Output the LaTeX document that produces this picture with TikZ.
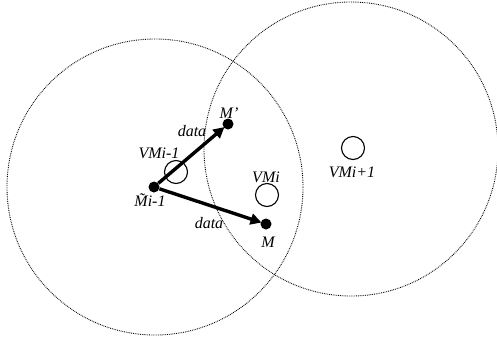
\documentclass[tikz,border=0pt]{standalone}
\usepackage{fontspec}
\setmainfont{Liberation Serif}
\usetikzlibrary{arrows.meta}
\tikzset{
  zone/.style={draw, line width=0.9pt, dash pattern=on 0.8pt off 1pt},
  vm/.style={circle, draw, line width=1.1pt, minimum size=23pt, inner sep=0pt},
  dotnode/.style={circle, fill, minimum size=11pt, inner sep=0pt},
  lbl/.style={font=\fontsize{16}{16}\selectfont\itshape, inner sep=0pt},
  arr/.style={line width=3.4pt, -{Triangle[length=11pt,width=11pt]}, shorten >=-1pt}
}
\begin{document}
\begin{tikzpicture}[x=1pt,y=-1pt]
\useasboundingbox (0,0) rectangle (497,338);
\draw[zone] (155,187) circle (148);
\draw[zone] (351,149) circle (147);
\node[vm] (vm1) at (176,172) {};
\node[vm] (vm2) at (267,195) {};
\node[vm] (vm3) at (353,148) {};
\node[dotnode] (mt) at (154,187) {};
\node[dotnode] (mp) at (228,124) {};
\node[dotnode] (m) at (266,224) {};
\draw[arr] (mt) -- (mp);
\draw[arr] (mt) -- (m);
\node[lbl] (lmp) at (229,113) {M'};
\node[lbl] (ld1) at (192,131) {data};
\node[lbl] (lvm1) at (159,153) {VMi-1};
\node[lbl] (lmt) at (150,200) {\~{M}i-1};
\node[lbl] (lvm2) at (266,177) {VMi};
\node[lbl] (ld2) at (209,223) {data};
\node[lbl] (lm) at (268,242) {M};
\node[lbl] (lvm3) at (352,172) {VMi+1};
\end{tikzpicture}
\end{document}
